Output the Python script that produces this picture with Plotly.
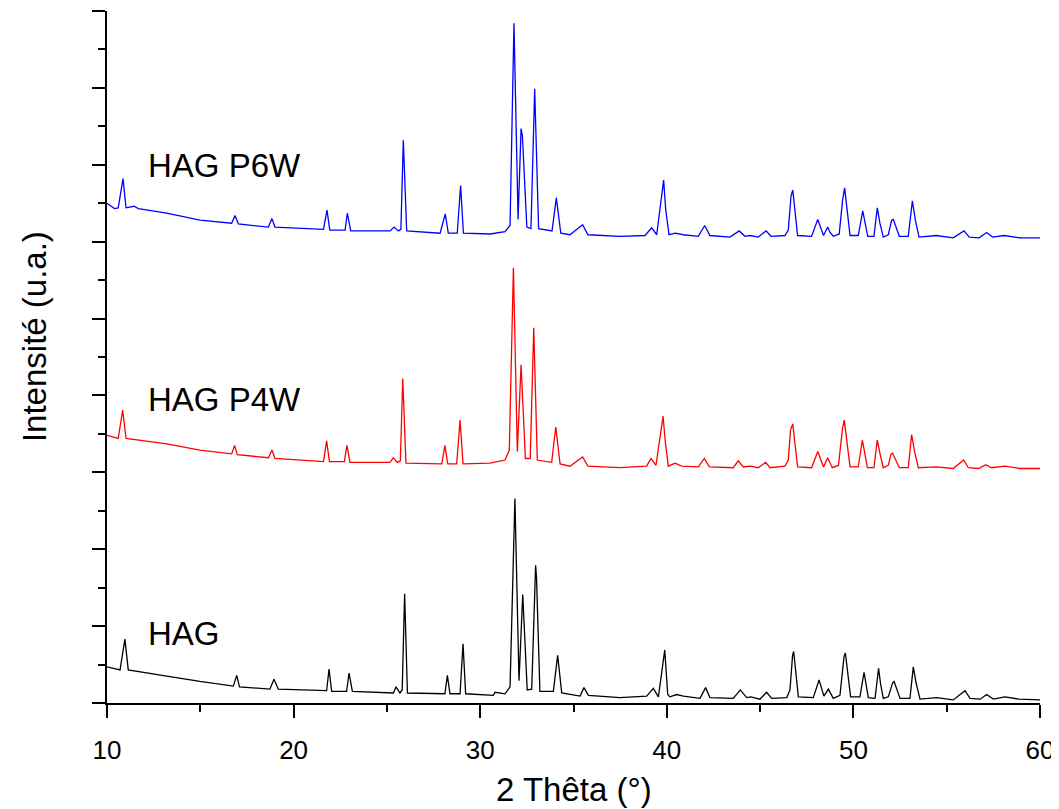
import plotly.graph_objects as go

# ---------------- data (2-theta in degrees, intensity in a.u. before stacking) ----------------
hag_x = [10, 10.7, 10.96, 11.14, 13.2, 14.98, 16.77, 16.95, 17.1, 18.73, 18.95, 19.18,
         21.77, 21.9, 22.04, 22.84, 22.97, 23.15, 25.35, 25.49, 25.7, 25.82, 25.95, 26.1,
         28.11, 28.24, 28.38, 28.92, 29.08, 29.22, 30.7, 30.8, 31.33, 31.6, 31.86, 32.08,
         32.28, 32.52, 32.76, 32.97, 33.02, 33.2, 33.92, 34.15, 34.37, 35.35, 35.56, 35.8,
         37.49, 38.92, 39.28, 39.55, 39.89, 40.05, 40.17, 40.53, 40.89, 41.78, 42.08, 42.31,
         43.56, 43.94, 44.28, 44.5, 44.99, 45.35, 45.62, 46.43, 46.6, 46.74, 46.8, 47.05,
         47.85, 48.16, 48.42, 48.66, 48.92, 49.28, 49.5, 49.57, 49.85, 50.35, 50.57, 50.8,
         51.16, 51.35, 51.45, 51.6, 51.87, 52.1, 52.18, 52.5, 53.03, 53.21, 53.36, 53.57,
         54.46, 55.35, 55.98, 56.25, 56.8, 57.14, 57.5, 58.12, 58.87, 59.82, 60]
hag_y = [47, 43, 83, 43, 35, 28, 22, 36, 21, 18, 31, 18,
         16, 44, 15, 15, 39, 15, 13, 21, 13, 17, 142, 13,
         12, 36, 12, 12, 77, 12, 10, 14, 12, 21, 266, 29,
         141, 17, 18, 179, 162, 15, 15, 62, 13, 9, 20, 10,
         7, 9, 19, 8, 69, 11, 8, 11, 9, 6, 20, 7,
         6, 17, 7, 8, 5, 14, 6, 7, 17, 62, 67, 8,
         7, 30, 9, 18, 6, 10, 61, 65, 8, 8, 40, 7,
         6, 45, 26, 6, 8, 26, 28, 6, 6, 47, 26, 5,
         7, 4, 16, 6, 5, 11, 5, 8, 5, 4, 4]

p4w_x = [10, 10.6, 10.84, 11.02, 13.2, 14.98, 16.68, 16.84, 16.98, 18.65, 18.84, 19.0,
         21.6, 21.77, 21.92, 22.72, 22.86, 23.02, 25.17, 25.34, 25.56, 25.72, 25.85, 26.02,
         27.94, 28.11, 28.26, 28.74, 28.92, 29.08, 30.53, 31.33, 31.56, 31.78, 31.99, 32.19,
         32.42, 32.68, 32.87, 33.06, 33.83, 34.05, 34.28, 34.81, 35.49, 35.77, 37.49, 38.92,
         39.15, 39.42, 39.8, 39.91, 40.08, 40.44, 40.8, 41.69, 42.01, 42.28, 43.56, 43.83,
         44.1, 44.46, 44.9, 45.3, 45.53, 46.33, 46.51, 46.63, 46.75, 47.01, 47.76, 48.09,
         48.4, 48.62, 48.87, 49.2, 49.42, 49.51, 49.82, 50.26, 50.48, 50.75, 51.1, 51.28,
         51.42, 51.6, 51.87, 52.02, 52.1, 52.46, 52.94, 53.12, 53.28, 53.48, 54.43, 55.35,
         55.91, 56.16, 56.7, 57.1, 57.4, 58.12, 58.92, 59.82, 60]
p4w_y = [48, 44, 81, 44, 37, 29, 24, 35, 23, 19, 29, 18,
         14, 41, 14, 14, 35, 13, 13, 19, 13, 15, 122, 12,
         11, 35, 11, 11, 68, 11, 12, 16, 29, 266, 27, 140,
         18, 18, 188, 16, 13, 59, 11, 8, 20, 8, 6, 8,
         18, 9, 73, 42, 8, 12, 8, 7, 18, 7, 6, 15,
         7, 8, 6, 13, 6, 8, 16, 55, 63, 7, 6, 27,
         7, 19, 6, 9, 58, 68, 7, 7, 42, 6, 6, 42,
         25, 6, 9, 24, 25, 6, 6, 49, 27, 6, 7, 5,
         16, 6, 5, 10, 6, 8, 5, 5, 5]

p6w_x = [10, 10.4, 10.6, 10.86, 11.02, 11.45, 11.68, 13.2, 14.98, 16.68, 16.86, 17.04,
         18.65, 18.84, 19.0, 21.6, 21.79, 21.94, 22.76, 22.88, 23.06, 25.17, 25.38, 25.62,
         25.75, 25.88, 26.06, 27.85, 28.13, 28.29, 28.77, 28.95, 29.1, 30.53, 31.33, 31.6,
         31.81, 32.03, 32.19, 32.26, 32.5, 32.72, 32.92, 33.13, 33.85, 34.08, 34.32, 34.81,
         35.49, 35.77, 37.49, 38.83, 39.19, 39.46, 39.83, 39.94, 40.12, 40.46, 40.89, 41.69,
         42.03, 42.31, 43.38, 43.88, 44.19, 44.46, 44.9, 45.32, 45.59, 46.33, 46.51, 46.66,
         46.75, 47.01, 47.76, 48.09, 48.4, 48.62, 48.75, 48.92, 49.24, 49.42, 49.53, 49.82,
         50.26, 50.5, 50.77, 51.1, 51.28, 51.42, 51.6, 51.87, 52.05, 52.14, 52.46, 52.94,
         53.16, 53.32, 53.52, 54.43, 55.35, 55.93, 56.21, 56.74, 57.14, 57.46, 58.08, 58.92,
         59.82, 60]
p6w_y = [50, 43, 44, 82, 44, 46, 43, 37, 28, 24, 34, 23,
         19, 30, 19, 16, 41, 15, 15, 37, 14, 14, 19, 14,
         16, 132, 14, 11, 36, 11, 11, 73, 11, 10, 13, 21,
         284, 29, 147, 138, 19, 17, 199, 17, 14, 57, 11, 9,
         22, 9, 7, 8, 18, 9, 80, 42, 9, 11, 9, 7,
         21, 8, 6, 14, 7, 8, 6, 14, 7, 8, 15, 60,
         67, 8, 7, 29, 8, 19, 12, 7, 10, 54, 70, 8,
         8, 40, 7, 7, 44, 24, 6, 9, 28, 29, 7, 7,
         53, 28, 6, 8, 5, 14, 6, 5, 12, 6, 8, 5,
         5, 5]

series_names = ["HAG", "HAG P4W", "HAG P6W"]
series_offsets = [0, 300, 600]
series_colors = ["#000000", "#FF0000", "#0000FF"]
label_x = [12.1, 12.1, 12.1]
label_y = [90, 395, 699]

xs = [hag_x, p4w_x, p6w_x]
ys = [hag_y, p4w_y, p6w_y]

fig = go.Figure()
for name, x, y, off, col in zip(series_names, xs, ys, series_offsets, series_colors):
    fig.add_trace(go.Scatter(x=x, y=[v + off for v in y], mode="lines", name=name,
                             line=dict(color=col, width=1.3), showlegend=False))

FONT = "Liberation Sans, Arial, sans-serif"
for name, lx, ly in zip(series_names, label_x, label_y):
    fig.add_annotation(x=lx, y=ly, xref="x", yref="y", text=name, showarrow=False,
                       xanchor="left", yanchor="middle",
                       font=dict(family=FONT, size=33, color="black"))

fig.add_annotation(x=0.5, y=-0.125, xref="paper", yref="paper", text="2 Thêta (°)",
                   showarrow=False, xanchor="center", yanchor="middle",
                   font=dict(family=FONT, size=33, color="black"))
fig.add_annotation(x=-0.077, y=0.529, xref="paper", yref="paper", text="Intensité (u.a.)",
                   showarrow=False, textangle=-90, xanchor="center", yanchor="middle",
                   font=dict(family=FONT, size=33, color="black"))

# page body has an 8px margin, so the figure is drawn 8px in from the top-left
fig.update_layout(
    width=1051, height=801,
    margin=dict(l=99, r=19, t=3, b=106),
    plot_bgcolor="white", paper_bgcolor="white",
    font=dict(family=FONT, color="black"),
)
fig.update_xaxes(range=[10, 60], dtick=10, tick0=0, showgrid=False, zeroline=False,
                 showline=True, linecolor="black", linewidth=2, mirror=False,
                 ticks="outside", ticklen=13, tickwidth=2, tickcolor="black",
                 ticklabelstandoff=10, ticklabeloverflow="allow",
                 tickfont=dict(family=FONT, size=26, color="black"),
                 minor=dict(dtick=5, ticks="outside", ticklen=7, tickwidth=2, tickcolor="black", showgrid=False))
fig.update_yaxes(range=[0, 900], dtick=100, tick0=0, showgrid=False, zeroline=False,
                 showline=True, linecolor="black", linewidth=2, mirror=False,
                 ticks="outside", ticklen=13, tickwidth=2, tickcolor="black",
                 showticklabels=False,
                 minor=dict(dtick=50, ticks="outside", ticklen=7, tickwidth=2, tickcolor="black", showgrid=False))

fig.write_html("out.html")
